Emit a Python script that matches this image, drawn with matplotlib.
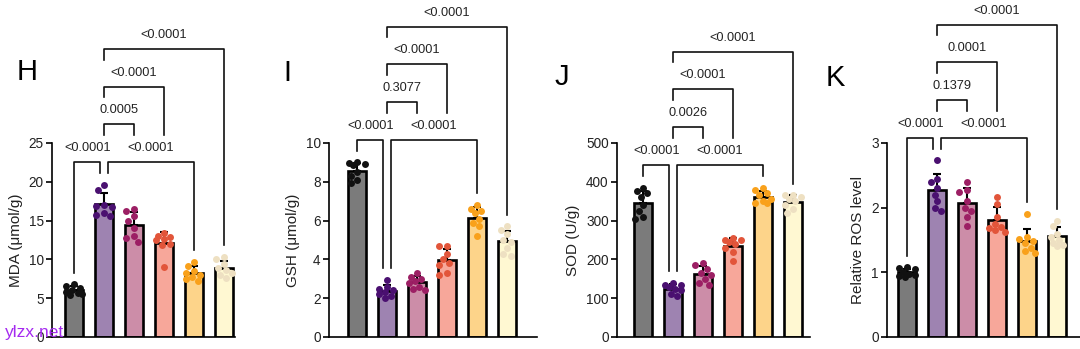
import numpy as np
import matplotlib
matplotlib.use('Agg')
import matplotlib.pyplot as plt

plt.rcParams['font.family'] = ['Liberation Sans', 'DejaVu Sans']

# bar fills and dot colours for the six groups
fills = ['#7b7b7b', '#9e83b1', '#cc8da8', '#f7a79a', '#fdd48a', '#fff8d2']
dots = ['#111111', '#4a1070', '#9c1f64', '#e2553a', '#f9a11b', '#eee0c2']

# data (8 animals per group)
mda = [[6.8, 6.6, 6.3, 6.0, 5.8, 5.7, 5.6, 5.4],
       [19.6, 19.0, 17.0, 16.9, 16.8, 16.0, 15.7, 15.6],
       [16.5, 16.2, 15.6, 15.0, 14.0, 13.0, 12.8, 12.3],
       [13.4, 13.0, 12.9, 12.6, 12.5, 12.0, 11.8, 9.0],
       [9.7, 9.2, 8.5, 8.2, 8.0, 7.7, 7.5, 7.2],
       [10.3, 10.0, 9.4, 8.9, 8.6, 8.3, 8.0, 7.6]]
gsh = [[9.0, 8.95, 8.9, 8.85, 8.5, 8.3, 8.1, 7.95],
       [2.95, 2.6, 2.5, 2.4, 2.3, 2.2, 2.1, 2.0],
       [3.3, 3.1, 3.0, 2.9, 2.8, 2.6, 2.5, 2.4],
       [4.7, 4.7, 4.3, 4.0, 3.8, 3.7, 3.3, 3.2],
       [6.8, 6.6, 6.5, 6.4, 6.1, 5.9, 5.7, 5.2],
       [5.7, 5.5, 5.3, 5.0, 4.9, 4.6, 4.3, 4.2]]
sod = [[385, 375, 370, 360, 340, 325, 310, 305],
       [140, 135, 135, 130, 125, 120, 110, 105],
       [190, 185, 175, 165, 160, 150, 140, 135],
       [255, 250, 250, 245, 240, 230, 220, 195],
       [385, 380, 370, 365, 355, 350, 345, 345],
       [365, 365, 360, 355, 350, 340, 330, 320]]
ros = [[1.08, 1.06, 1.05, 1.0, 0.98, 0.96, 0.95, 0.93],
       [2.73, 2.45, 2.4, 2.3, 2.2, 2.1, 2.0, 1.95],
       [2.4, 2.28, 2.25, 2.1, 2.0, 1.95, 1.85, 1.72],
       [2.17, 2.05, 1.85, 1.75, 1.7, 1.68, 1.65, 1.62],
       [1.9, 1.55, 1.52, 1.48, 1.45, 1.38, 1.33, 1.3],
       [1.8, 1.72, 1.6, 1.55, 1.5, 1.45, 1.42, 1.4]]

# p values: [ctrl vs model, model vs g4, model vs g2, model vs g3, model vs g5]
p_mda = ['<0.0001', '<0.0001', '0.0005', '<0.0001', '<0.0001']
p_gsh = ['<0.0001', '<0.0001', '0.3077', '<0.0001', '<0.0001']
p_sod = ['<0.0001', '<0.0001', '0.0026', '<0.0001', '<0.0001']
p_ros = ['<0.0001', '<0.0001', '0.1379', '0.0001', '<0.0001']

panels = [
    dict(letter='H', data=mda, p=p_mda, ylabel='MDA (μmol/g)', ymax=25, step=5, px=(52, 235), bar0=74, lx=17, ly=72),
    dict(letter='I', data=gsh, p=p_gsh, ylabel='GSH (μmol/g)', ymax=10, step=2, px=(329, 537), bar0=357, lx=283, ly=73),
    dict(letter='J', data=sod, p=p_sod, ylabel='SOD (U/g)', ymax=500, step=100, px=(617, 810), bar0=643, lx=555, ly=77),
    dict(letter='K', data=ros, p=p_ros, ylabel='Relative ROS level', ymax=3, step=1, px=(887, 1080), bar0=907, lx=826, ly=78),
]

W, H = 1080, 349
fig = plt.figure(figsize=(10.8, 3.49), dpi=100)
ax_h = 194  # axis height in px
bottom = (H - 337) / H


def swarm(vals, ppu, d=6.5):
    # simple greedy beeswarm in pixel space, returns x offsets in bar units
    cands = sorted(np.linspace(-8, 8, 9), key=abs)
    placed = []
    offs = []
    for v in vals:
        y = v * ppu
        best, bestd = 0, -1
        for c in cands:
            md = min([np.hypot(c - px, y - py) for px, py in placed] + [99])
            if md >= d:
                best = c
                break
            if md > bestd:
                best, bestd = c, md
        placed.append((best, y))
        offs.append(best / 30)
    return np.array(offs)


def bracket(ax, x1, x2, y, e1, e2, txt, ymax):
    ax.plot([x1, x1, x2, x2], [e1, y, y, e2], color='#111', lw=1.2, clip_on=False, zorder=5)
    ax.text((x1 + x2) / 2, y + 0.072 * ymax, txt, ha='center', va='center', fontsize=9.2, color='#222')


for pnl in panels:
    l, r = pnl['px']
    ax = fig.add_axes([l / W, bottom, (r - l) / W, ax_h / H])
    ymax = pnl['ymax']
    ppu = ax_h / ymax
    vals = [np.array(v, float) for v in pnl['data']]
    means = np.array([v.mean() for v in vals])
    sds = np.array([v.std(ddof=1) for v in vals])
    x = np.arange(6)
    ax.bar(x, means, width=0.58, color=fills, edgecolor='k', linewidth=1.9, zorder=2)
    ax.errorbar(x, means, yerr=[np.zeros(6), sds], fmt='none', ecolor='k', elinewidth=1.5,
                capsize=3, capthick=1.5, zorder=3)
    for i, v in enumerate(vals):
        ax.scatter(i + swarm(v, ppu), v, s=25, color=dots[i], linewidths=0, zorder=4)

    ax.set_ylim(0, ymax)
    ax.set_yticks(np.arange(0, ymax + pnl['step'] / 2, pnl['step']))
    ax.set_xlim(-(pnl['bar0'] - l) / 30, (r - pnl['bar0']) / 30)
    ax.set_xticks([])
    for s in ['top', 'right']:
        ax.spines[s].set_visible(False)
    for s in ['left', 'bottom']:
        ax.spines[s].set_linewidth(1.2)
    ax.tick_params(axis='y', length=4, width=1.2, labelsize=9.8, pad=2, labelcolor='#222')
    ax.set_ylabel(pnl['ylabel'], fontsize=11, labelpad=4, color='#222')

    # significance brackets
    tops = np.maximum([v.max() for v in vals], means + sds)
    pad = 0.06 * ymax
    leg = 0.055 * ymax
    row1 = tops[:5].max() + 0.118 * ymax
    dy = 0.194 * ymax
    p = pnl['p']
    bracket(ax, 0, 1 - 0.12, row1, tops[0] + pad, tops[1] + pad, p[0], ymax)
    bracket(ax, 1 + 0.12, 4, row1, tops[1] + pad, tops[4] + pad, p[1], ymax)
    r2 = row1 + dy
    bracket(ax, 1, 2, r2, r2 - leg, r2 - leg, p[2], ymax)
    r3 = row1 + 2 * dy
    bracket(ax, 1, 3, r3, r3 - leg, r2 - leg, p[3], ymax)
    r4 = row1 + 3 * dy
    bracket(ax, 1, 5, r4, r4 - leg, tops[5] + pad, p[4], ymax)

    fig.text(pnl['lx'] / W, 1 - pnl['ly'] / H, pnl['letter'], fontsize=21, ha='left', va='center')

fig.text(5 / W, 1 - 333 / H, 'ylzx.net', fontsize=12.5, color='#a52af0', ha='left', va='center', zorder=10)

fig.savefig('out.png', dpi=100)
